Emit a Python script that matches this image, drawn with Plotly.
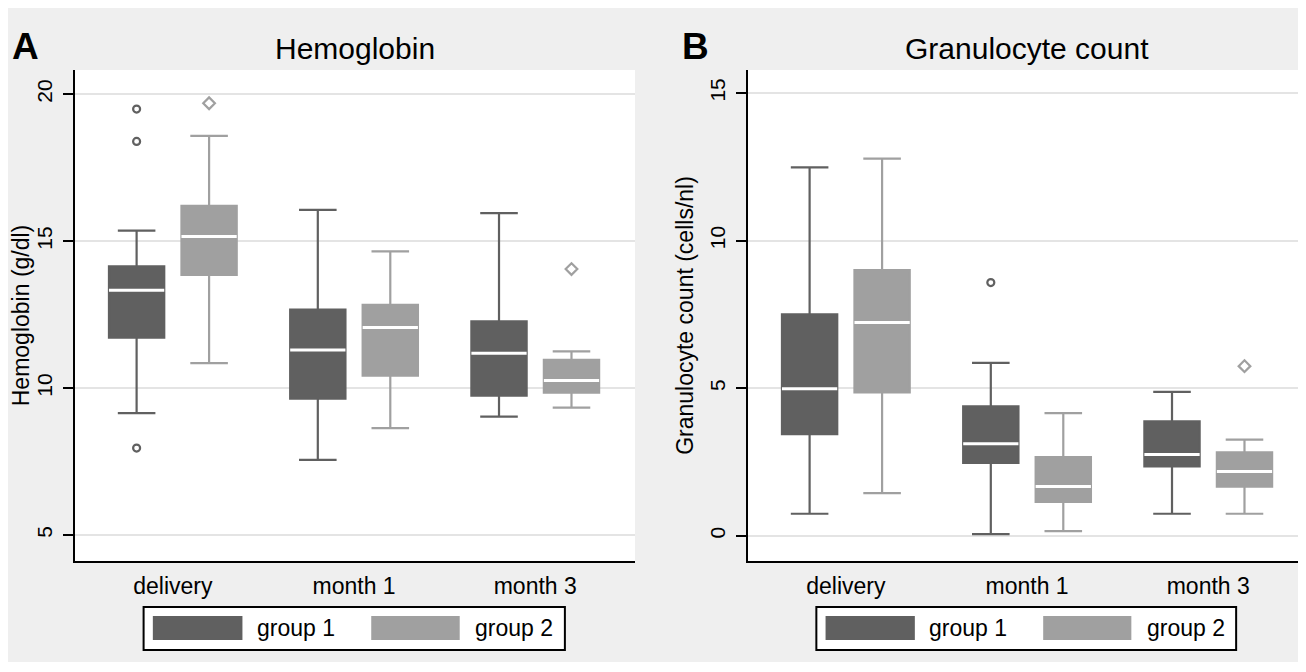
import plotly.graph_objects as go

# ---------------- data ----------------
categories = ["delivery", "month 1", "month 3"]
groups = ["group 1", "group 2"]

# Hemoglobin (g/dl)
hb_g1_lower = [9.15, 7.56, 9.03]
hb_g1_q1 = [11.72, 9.64, 9.74]
hb_g1_median = [13.33, 11.30, 11.19]
hb_g1_q3 = [14.14, 12.67, 12.27]
hb_g1_upper = [15.36, 16.06, 15.95]
hb_g1_outliers = [[19.49, 18.39, 7.96], [], []]

hb_g2_lower = [10.85, 8.64, 9.34]
hb_g2_q1 = [13.85, 10.42, 9.85]
hb_g2_median = [15.16, 12.06, 10.26]
hb_g2_q3 = [16.20, 12.83, 10.96]
hb_g2_upper = [18.58, 14.65, 11.25]
hb_g2_outliers = [[19.69], [], [14.05]]

# Granulocyte count (cells/nl)
gr_g1_lower = [0.75, 0.06, 0.75]
gr_g1_q1 = [3.45, 2.47, 2.35]
gr_g1_median = [4.98, 3.12, 2.76]
gr_g1_q3 = [7.50, 4.39, 3.88]
gr_g1_upper = [12.48, 5.86, 4.88]
gr_g1_outliers = [[], [8.58], []]

gr_g2_lower = [1.45, 0.16, 0.75]
gr_g2_q1 = [4.86, 1.15, 1.67]
gr_g2_median = [7.23, 1.67, 2.18]
gr_g2_q3 = [9.00, 2.67, 2.83]
gr_g2_upper = [12.78, 4.16, 3.26]
gr_g2_outliers = [[], [], [5.75]]

hb_ticks = [5, 10, 15, 20]
gr_ticks = [0, 5, 10, 15]

# ---------------- style ----------------
PAGE = 8                      # default body margin of the html page
W, H = 1298, 654
FONT = "Liberation Sans, Arial, sans-serif"
C1, C2 = "#606060", "#a0a0a0"
BG = "#efefef"
GRID = "#e4e4e4"
OFFSET = 0.2
BOXW = 0.305
PX_PER_UNIT = 181.2


def px(page_x):
    return (page_x - PAGE) / W


def py(page_y):
    return 1 - (page_y - PAGE) / H


fig = go.Figure()


def add_panel(xa, ya, stats1, stats2, out1, out2):
    for (lo, q1, md, q3, up), outs, col, off, sym, msz in (
        (stats1, out1, C1, -OFFSET, "circle-open", 7),
        (stats2, out2, C2, OFFSET, "diamond-open", 9),
    ):
        pos = [i + off for i in range(len(categories))]
        fig.add_trace(go.Box(
            x=pos, q1=q1, median=md, q3=q3, lowerfence=lo, upperfence=up,
            width=BOXW, whiskerwidth=0.68, fillcolor=col,
            line=dict(color=col, width=2.2), boxpoints=False,
            xaxis=xa, yaxis=ya, showlegend=False, hoverinfo="skip"))
        mx, my = [], []
        for p, m in zip(pos, md):
            mx += [p - BOXW / 2, p + BOXW / 2, None]
            my += [m, m, None]
        fig.add_trace(go.Scatter(
            x=mx, y=my, mode="lines", line=dict(color="white", width=3),
            xaxis=xa, yaxis=ya, showlegend=False, hoverinfo="skip"))
        ox, oy = [], []
        for p, vals in zip(pos, outs):
            for v in vals:
                ox.append(p)
                oy.append(v)
        fig.add_trace(go.Scatter(
            x=ox, y=oy, mode="markers",
            marker=dict(symbol=sym, size=msz, color=col, line=dict(width=2.2, color=col)),
            xaxis=xa, yaxis=ya, showlegend=False, hoverinfo="skip"))


add_panel("x", "y",
          (hb_g1_lower, hb_g1_q1, hb_g1_median, hb_g1_q3, hb_g1_upper),
          (hb_g2_lower, hb_g2_q1, hb_g2_median, hb_g2_q3, hb_g2_upper),
          hb_g1_outliers, hb_g2_outliers)
add_panel("x2", "y2",
          (gr_g1_lower, gr_g1_q1, gr_g1_median, gr_g1_q3, gr_g1_upper),
          (gr_g2_lower, gr_g2_q1, gr_g2_median, gr_g2_q3, gr_g2_upper),
          gr_g1_outliers, gr_g2_outliers)

ydom = [py(561), py(70)]
xdomA = [px(75), px(635)]
xdomB = [px(748), 1.0]
widthA = 560
widthB = W - (748 - PAGE)

xcommon = dict(
    tickvals=list(range(len(categories))), ticktext=categories,
    showline=True, linecolor="black", linewidth=2, showgrid=False,
    zeroline=False, ticks="", ticklabelstandoff=3,
    tickfont=dict(family=FONT, size=23, color="black"), fixedrange=True)
ycommon = dict(
    showline=True, linecolor="black", linewidth=2, showgrid=True,
    gridcolor=GRID, gridwidth=2, zeroline=False, ticks="outside",
    ticklen=10, tickwidth=1.5, tickcolor="black", tickangle=-90,
    ticklabelstandoff=3,
    tickfont=dict(family=FONT, size=21, color="black"), fixedrange=True)

fig.update_layout(
    width=W, height=H, margin=dict(l=0, r=0, t=0, b=0),
    paper_bgcolor=BG, plot_bgcolor="white", showlegend=False,
    xaxis=dict(domain=xdomA, range=[-0.54, -0.54 + widthA / PX_PER_UNIT], anchor="y", **xcommon),
    yaxis=dict(domain=ydom, range=[4.12, 20.82], tickvals=hb_ticks, anchor="x",
               title=dict(text="Hemoglobin (g/dl)", standoff=6,
                          font=dict(family=FONT, size=23, color="black")), **ycommon),
    xaxis2=dict(domain=xdomB, range=[-0.54, -0.54 + widthB / PX_PER_UNIT], anchor="y2", **xcommon),
    yaxis2=dict(domain=ydom, range=[-0.85, 15.78], tickvals=gr_ticks, anchor="x2",
                title=dict(text="Granulocyte count (cells/nl)", standoff=6,
                           font=dict(family=FONT, size=23, color="black")), **ycommon),
)

shapes = []
annotations = []

for xa, title, letter, lx in (("x", "Hemoglobin", "A", 25), ("x2", "Granulocyte count", "B", 695)):
    xd = xa + " domain"
    # legend frame
    shapes.append(dict(type="rect", xref=xd, yref="paper", x0=0.1225, x1=0.8748,
                       y0=py(650), y1=py(607), fillcolor="white",
                       line=dict(color="black", width=2)))
    for g, col, sx0, sx1, tx in ((groups[0], C1, 0.139, 0.299, 0.321),
                                (groups[1], C2, 0.529, 0.687, 0.711)):
        shapes.append(dict(type="rect", xref=xd, yref="paper", x0=sx0, x1=sx1,
                           y0=py(640), y1=py(616), fillcolor=col, line=dict(width=0)))
        annotations.append(dict(text=g, xref=xd, yref="paper", x=tx, y=py(628),
                                xanchor="left", yanchor="middle", showarrow=False,
                                font=dict(family=FONT, size=23, color="black")))
    annotations.append(dict(text=title, xref=xd, yref="paper", x=0.5, y=py(49),
                            xanchor="center", yanchor="middle", showarrow=False,
                            font=dict(family=FONT, size=30, color="black")))
    annotations.append(dict(text="<b>" + letter + "</b>", xref="paper", yref="paper",
                            x=px(lx), y=py(46), xanchor="center", yanchor="middle",
                            showarrow=False, font=dict(family=FONT, size=37, color="black")))

fig.update_layout(shapes=shapes, annotations=annotations)
fig.write_html("out.html")
